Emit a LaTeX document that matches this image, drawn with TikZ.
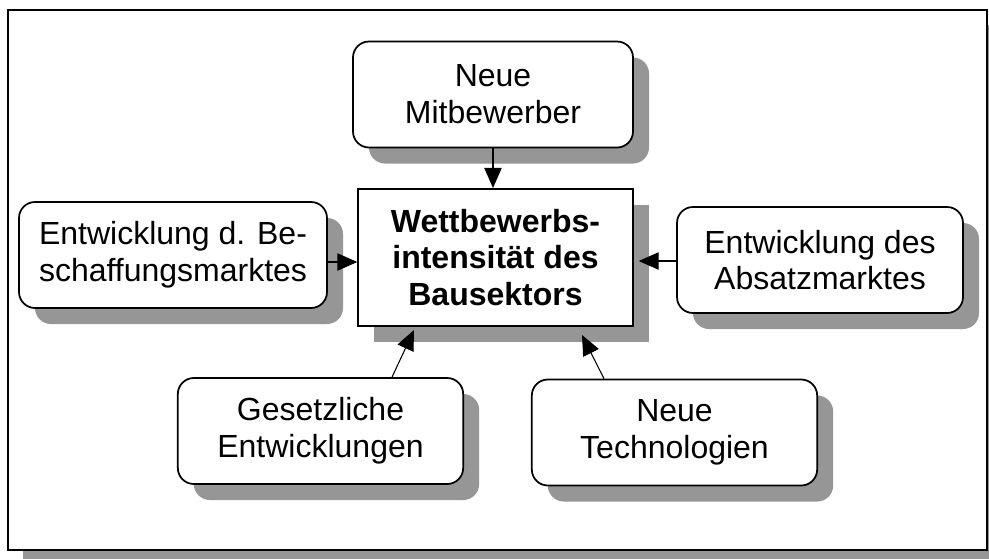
\documentclass[tikz,border=0pt]{standalone}
\usepackage{fontspec}
\setmainfont{Liberation Sans}
\usepackage{tikz}
\usetikzlibrary{arrows.meta, shadows, calc}
\definecolor{shadowgray}{RGB}{150,150,150}

\begin{document}
\begin{tikzpicture}[
    x=0.75pt, y=-0.75pt,
    frame/.style={rectangle, draw, line width=1.8pt, fill=white, inner sep=0pt, drop shadow={shadow xshift=11pt, shadow yshift=-11pt, fill=shadowgray, opacity=1}},
    factor/.style={rectangle, draw, line width=1.3pt, rounded corners=12pt, fill=white, minimum height=79.5pt, align=center, inner sep=0pt, font=\fontsize{24pt}{27.6pt}\selectfont, drop shadow={shadow xshift=12pt, shadow yshift=-12pt, fill=shadowgray, opacity=1}},
    target/.style={factor, sharp corners, minimum width=206pt, minimum height=103pt, font=\fontsize{24pt}{27.6pt}\selectfont\bfseries},
    arrow/.style={-{Triangle[length=15pt, width=13pt]}, line width=0.8pt}
]
\useasboundingbox (0,0) rectangle (989,558);

% Rahmen
\node[frame, minimum width=734pt, minimum height=405pt] (rahmen) at (497.5,280) {};

% Zentrum
\node[target] (wett) at (495.5,257.5) {Wettbewerbs-\\intensität des\\Bausektors};

% Einflussfaktoren
\node[factor, minimum width=210pt] (mitbew) at (493,94.5) {Neue\\Mitbewerber};
\node[factor, minimum width=231pt] (beschaff) at (173,255) {Entwicklung d. Be-\\schaffungsmarktes};
\node[factor, minimum width=214.5pt] (absatz) at (820,260) {Entwicklung des\\Absatzmarktes};
\node[factor, minimum width=214pt] (gesetz) at (320.5,431) {Gesetzliche\\Entwicklungen};
\node[factor, minimum width=214pt] (technik) at (674.5,432.5) {Neue\\Technologien};

% Pfeile
\draw[arrow] (mitbew.south) -- (mitbew.south |- wett.north);
\draw[arrow] ($(beschaff.east)+(0,7)$) -- ($(beschaff.east -| wett.west)+(0,7)$);
\draw[arrow] ($(absatz.west)+(0,1)$) -- ($(absatz.west -| wett.east)+(5,1)$);
\draw[arrow] ($(gesetz.north)+(71.5,0)$) -- ($(wett.south)+(-81.5,3)$);
\draw[arrow] ($(technik.north)+(-70.5,0)$) -- ($(wett.south)+(86.5,8)$);

\end{tikzpicture}
\end{document}
